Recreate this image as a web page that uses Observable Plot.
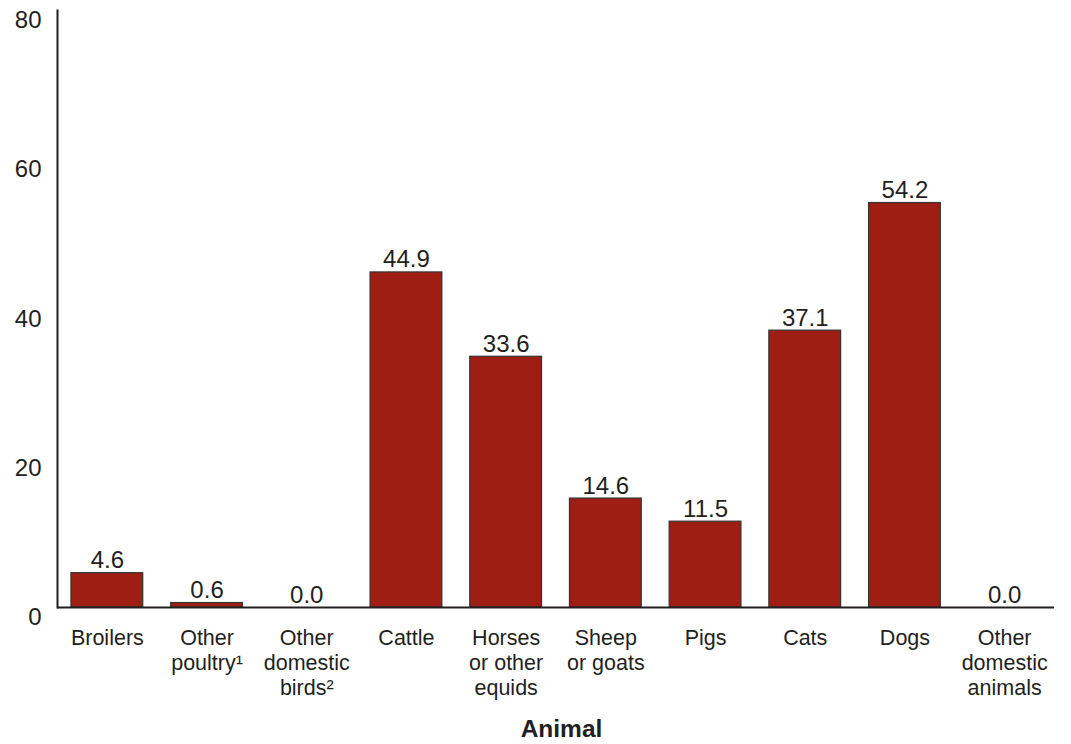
<!DOCTYPE html>
<html>
<head>
<meta charset="utf-8">
<script src="https://cdn.jsdelivr.net/npm/d3@7"></script>
<script src="https://cdn.jsdelivr.net/npm/@observablehq/plot@0.6"></script>
<style>
  html, body { margin: 0; padding: 0; background: #fff; }
  #chart svg { display: block; font-family: "Liberation Sans", Arial, sans-serif; }
</style>
</head>
<body>
<div id="chart"></div>
<script>
// Animal categories (multi-line tick labels) and their values
const animals = [
  "Broilers",
  "Other\npoultry¹",
  "Other\ndomestic\nbirds²",
  "Cattle",
  "Horses\nor other\nequids",
  "Sheep\nor goats",
  "Pigs",
  "Cats",
  "Dogs",
  "Other\ndomestic\nanimals"
];
const values = [4.6, 0.6, 0.0, 44.9, 33.6, 14.6, 11.5, 37.1, 54.2, 0.0];
const yTicks = [0, 20, 40, 60, 80];

const data = animals.map((a, i) => ({animal: a, value: values[i]}));

const ink = "#231f20";
const barFill = "#9f1e14";

const chart = Plot.plot({
  width: 1071,
  height: 744,
  marginLeft: 57,
  marginRight: 17,
  marginTop: 10,
  marginBottom: 137,
  style: {fontFamily: "'Liberation Sans', Arial, sans-serif", color: ink, background: "#fff"},
  x: {domain: animals, paddingInner: 0.28, paddingOuter: 0.14, round: false},
  y: {domain: [0, 80]},
  marks: [
    Plot.barY(data, {x: "animal", y: "value", fill: barFill, stroke: "#333", strokeWidth: 1.2}),
    Plot.text(data, {
      x: "animal", y: "value",
      text: d => d.value.toFixed(1),
      lineAnchor: "bottom", dy: -5,
      fontSize: 24, fill: ink
    }),
    Plot.axisY({ticks: yTicks, tickSize: 0, tickPadding: 16, dy: 10, fontSize: 24, label: null, fill: ink}),
    Plot.axisX({
      tickSize: 0, tickPadding: 20, fontSize: 21.5, lineHeight: 1.163,
      label: null, fill: ink
    }),
    Plot.text(["Animal"], {
      frameAnchor: "bottom", dy: 129, dx: 5.5,
      fontSize: 24.5, fontWeight: "bold", fill: ink
    }),
    Plot.frame({anchor: "left", stroke: ink, strokeWidth: 2}),
    Plot.ruleY([0], {stroke: ink, strokeWidth: 2})
  ]
});

document.getElementById("chart").append(chart);
</script>
</body>
</html>
